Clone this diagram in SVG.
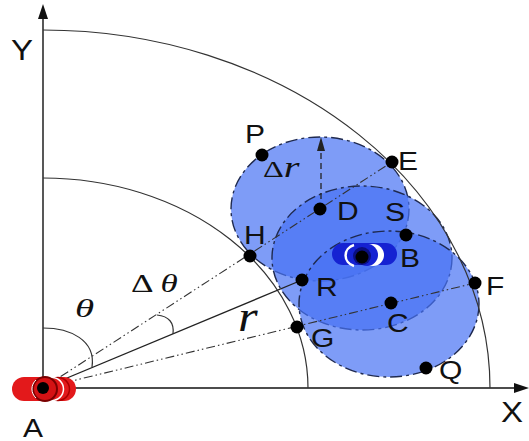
<svg xmlns="http://www.w3.org/2000/svg" width="529" height="441" viewBox="0 0 529 441">
<style>
.lbl{font-family:"Liberation Sans",Arial,sans-serif;font-size:25px;fill:#111}
.ax{font-family:"Liberation Sans",Arial,sans-serif;font-size:30px;fill:#111}
.math{font-family:"Liberation Serif","Times New Roman",serif;fill:#111}
.it{font-style:italic}
.dot{fill:#000}
.region{fill:rgb(71,114,244);fill-opacity:0.7;stroke:#1f2a50;stroke-width:1.4;stroke-dasharray:12 4 3 4}
.arc{fill:none;stroke:#333;stroke-width:1.2}
.dd{fill:none;stroke:#333;stroke-width:1.1;stroke-dasharray:9 3 1.5 3 1.5 3}
</style>
<rect width="529" height="441" fill="#fff"/>
<g id="regions">
<g id="region-top"><ellipse class="region" cx="320" cy="209" rx="89" ry="72"/></g>
<g id="region-mid"><ellipse class="region" cx="362" cy="258" rx="90" ry="72"/></g>
<g id="region-bottom"><ellipse class="region" cx="389" cy="304" rx="90" ry="73"/></g>
</g>
<g id="axes">
<line x1="43" y1="389" x2="43" y2="17" stroke="#111" stroke-width="1.4"/>
<polygon points="43,4 38,19 48,19" fill="#111"/>
<line x1="43" y1="388" x2="516" y2="388" stroke="#111" stroke-width="1.4"/>
<polygon points="529,388 514,383 514,393" fill="#111"/>
<path class="arc" d="M43,30 A447,358 0 0 1 490,388"/>
<path class="arc" d="M43,178 A265,210 0 0 1 308,388"/>
</g>
<g id="connectors">
<line x1="43" y1="388" x2="302" y2="280" stroke="#222" stroke-width="1.3"/>
<line class="dd" x1="43" y1="388" x2="392" y2="162"/>
<line class="dd" x1="43" y1="388" x2="475" y2="283"/>
<line x1="321" y1="209" x2="321" y2="150" stroke="#222" stroke-width="1.3" stroke-dasharray="6 4"/>
<polygon points="321,137 317,151 325,151" fill="#222"/>
<path class="arc" d="M43,328 C70,328 96,340 92,367"/>
<path class="arc" d="M157,315 Q175,317 173,334"/>
</g>
<g id="node-A">
<rect x="12" y="377" width="64" height="24" rx="12" fill="#e3191b"/>
<circle cx="58" cy="389" r="11.5" fill="none" stroke="#a00" stroke-width="1.5"/>
<circle cx="52" cy="389" r="11.5" fill="none" stroke="#fff" stroke-width="1.5"/>
<circle cx="45" cy="389" r="12" fill="#d41214" stroke="#7a0000" stroke-width="2"/>
<path d="M36,380 A12,12 0 0 0 36,398" fill="none" stroke="#fff" stroke-width="1"/>
<circle class="dot" cx="43" cy="388" r="6"/>
<text class="lbl" transform="translate(23,437) scale(1.2,1)">A</text>
</g>
<g id="node-B">
<rect x="332" y="243" width="65" height="22" rx="11" fill="#1522d2"/>
<circle cx="373" cy="255" r="11" fill="#fff"/>
<circle cx="367" cy="255" r="11" fill="#1522d2"/>
<path d="M354,245 A12,11 0 0 0 354,266" fill="none" stroke="#fff" stroke-width="2.5"/>
<circle cx="362" cy="256" r="9" fill="#0a0f80"/>
<circle class="dot" cx="362" cy="257" r="6.5"/>
<text class="lbl" transform="translate(400,267) scale(1.2,1)">B</text>
</g>
<g id="node-P"><circle class="dot" cx="262" cy="155" r="6.5"/><text class="lbl" transform="translate(245,143) scale(1.2,1)">P</text></g>
<g id="node-E"><circle class="dot" cx="392" cy="162" r="6.5"/><text class="lbl" transform="translate(398,170) scale(1.2,1)">E</text></g>
<g id="node-D"><circle class="dot" cx="320" cy="209" r="6.5"/><text class="lbl" transform="translate(337,220) scale(1.2,1)">D</text></g>
<g id="node-S"><circle class="dot" cx="406" cy="235" r="6.5"/><text class="lbl" transform="translate(385,221) scale(1.2,1)">S</text></g>
<g id="node-H"><circle class="dot" cx="250" cy="256" r="6.5"/><text class="lbl" transform="translate(244,244) scale(1.2,1)">H</text></g>
<g id="node-R"><circle class="dot" cx="302" cy="280" r="6.5"/><text class="lbl" transform="translate(316,296) scale(1.2,1)">R</text></g>
<g id="node-F"><circle class="dot" cx="475" cy="283" r="6.5"/><text class="lbl" transform="translate(486,295) scale(1.2,1)">F</text></g>
<g id="node-C"><circle class="dot" cx="391" cy="303" r="6.5"/><text class="lbl" transform="translate(387,332) scale(1.2,1)">C</text></g>
<g id="node-G"><circle class="dot" cx="297" cy="327" r="6.5"/><text class="lbl" transform="translate(311,347) scale(1.2,1)">G</text></g>
<g id="node-Q"><circle class="dot" cx="426" cy="368" r="6.5"/><text class="lbl" transform="translate(439,379) scale(1.2,1)">Q</text></g>
<g id="labels">
<text class="ax" transform="translate(11,60) scale(1.1,1)">Y</text>
<text class="ax" transform="translate(501,422) scale(1.1,1)">X</text>
<text class="math it" font-size="26" transform="translate(75,317) scale(1.5,1)">θ</text>
<text class="math" font-size="26" transform="translate(131,292) scale(1.35,1)">Δ <tspan class="it">θ</tspan></text>
<text class="math it" font-size="44" transform="translate(238,331) scale(1.15,1)">r</text>
<text class="math" font-size="24" transform="translate(263,177) scale(1.35,1)">Δ<tspan class="it" font-size="30">r</tspan></text>
</g>
</svg>
